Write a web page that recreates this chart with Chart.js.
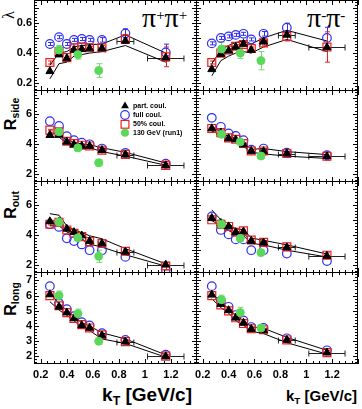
<!DOCTYPE html>
<html>
<head>
<meta charset="utf-8">
<script src="https://cdn.jsdelivr.net/npm/chart.js@4.4.0/dist/chart.umd.min.js"></script>
<style>
html, body { margin: 0; padding: 0; background: #fff; }
#wrap { position: relative; width: 362px; height: 409px; overflow: hidden; font-family: "Liberation Sans", Arial, sans-serif; }
canvas { position: absolute; }
.lbl { position: absolute; font-weight: bold; color: #000; white-space: nowrap; line-height: 1; }
.rot { transform: translate(-50%, -50%) rotate(-90deg); }
.lbl sub { font-size: 0.65em; vertical-align: -0.3em; line-height: 0; }
.pi { position: absolute; font-family: "Liberation Serif", "DejaVu Serif", serif; font-size: 28px; line-height: 1; white-space: nowrap; }
.pi sup { font-size: 15px; vertical-align: 0.5em; line-height: 0; }
</style>
</head>
<body>
<div id="wrap">
  <div class="pi" style="left:142px;top:4px">π<sup>+</sup>π<sup>+</sup></div>
  <div class="pi" style="left:307px;top:4px">π<sup>-</sup>π<sup>-</sup></div>
  <div class="lbl rot" style="left:9px;top:15px;font-family:'Liberation Serif',serif;font-weight:normal;font-size:16px">λ</div>
  <div class="lbl rot" style="left:11px;top:114px;font-size:16px">R<sub>side</sub></div>
  <div class="lbl rot" style="left:11px;top:205px;font-size:16px">R<sub>out</sub></div>
  <div class="lbl rot" style="left:11px;top:299px;font-size:16px">R<sub>long</sub></div>
  <div class="lbl" style="right:170px;top:385px;font-size:19px">k<sub>T</sub> [GeV/c]</div>
  <div class="lbl" style="right:5px;top:388px;font-size:15px">k<sub>T</sub> [GeV/c]</div>
</div>
<script>
// kT bins of the 200 GeV points and of the 130 GeV (run1) points
const kT = [0.27, 0.34, 0.40, 0.455, 0.515, 0.575, 0.67, 0.85, 1.16];
const kTerr = [0, 0, 0, 0, 0, 0, 0.025, 0.065, 0.14];
const kTrun1PP = [0.34, 0.485, 0.645];
const kTrun1MM = [0.345, 0.49, 0.65];

const xTicks = [0.2, 0.4, 0.6, 0.8, 1.0, 1.2];
const lamTicks = [0.2, 0.3, 0.4, 0.5, 0.6, 0.7];
const rTicks = [2, 3, 4, 5, 6, 7];
const legendLabels = ["part. coul.", "full coul.", "50% coul.", "130 GeV (run1)"];

// lambda, pi+pi+
const lamPP_part = [0.28, 0.39, 0.365, 0.42, 0.425, 0.43, 0.43, 0.48, 0.37];
const lamPP_full = [0.46, 0.505, 0.46, 0.487, 0.493, 0.487, 0.487, 0.53, 0.404];
const lamPP_half = [0.338, 0.41, 0.37, 0.435, 0.44, 0.435, 0.435, 0.493, 0.375];
const lamPP_fullErr = [0.01, 0.01, 0.01, 0.01, 0.01, 0.01, 0.015, 0.03, 0.055];
const lamPP_halfErr = [0.01, 0.01, 0.01, 0.01, 0.01, 0.01, 0.015, 0.03, 0.065];
const lamPP_run1 = [0.42, 0.39, 0.285];
const lamPP_run1Err = [0.03, 0.03, 0.045];
const lamPP_hi = [0.32, 0.40, 0.41, 0.44, 0.45, 0.455, 0.46, 0.52, 0.40];
const lamPP_lo = [0.23, 0.33, 0.34, 0.38, 0.39, 0.40, 0.41, 0.45, 0.34];

// lambda, pi-pi-
const lamMM_part = [0.293, 0.393, 0.415, 0.44, 0.46, 0.42, 0.475, 0.52, 0.437];
const lamMM_full = [0.464, 0.50, 0.51, 0.52, 0.527, 0.49, 0.527, 0.567, 0.50];
const lamMM_half = [0.338, 0.40, 0.42, 0.445, 0.457, 0.43, 0.467, 0.51, 0.44];
const lamMM_fullErr = [0.01, 0.01, 0.01, 0.01, 0.01, 0.01, 0.015, 0.03, 0.07];
const lamMM_halfErr = [0.01, 0.01, 0.01, 0.01, 0.01, 0.01, 0.015, 0.03, 0.1];
const lamMM_run1 = [0.427, 0.40, 0.35];
const lamMM_run1Err = [0.045, 0.035, 0.06];
const lamMM_hi = [0.33, 0.42, 0.45, 0.47, 0.48, 0.46, 0.50, 0.55, 0.48];
const lamMM_lo = [0.25, 0.35, 0.38, 0.40, 0.41, 0.40, 0.44, 0.49, 0.41];

// R_side
const sidePP_part = [4.58, 4.6, 4.14, 3.96, 3.87, 3.87, 3.59, 3.30, 2.59];
const sidePP_full = [5.50, 5.19, 4.51, 4.25, 4.09, 3.98, 3.70, 3.41, 2.70];
const sidePP_half = [4.91, 4.80, 4.18, 4.03, 3.92, 3.87, 3.59, 3.32, 2.59];
const sidePP_halfErr = [0.05, 0.05, 0.05, 0.05, 0.05, 0.05, 0.05, 0.08, 0.15];
const sidePP_run1 = [4.80, 3.74, 2.77];
const sidePP_run1Err = [0.15, 0.15, 0.2];
const sidePP_hi = [4.75, 4.65, 4.25, 4.1, 4.0, 3.95, 3.75, 3.45, 2.75];
const sidePP_lo = [4.45, 4.45, 4.05, 3.85, 3.8, 3.75, 3.5, 3.2, 2.6];

const sideMM_part = [5.02, 4.75, 4.36, 4.29, 3.96, 3.54, 3.52, 3.37, 3.19];
const sideMM_full = [5.72, 5.13, 4.69, 4.53, 4.25, 3.63, 3.70, 3.43, 3.26];
const sideMM_half = [5.02, 4.75, 4.40, 4.31, 4.03, 3.54, 3.54, 3.37, 3.19];
const sideMM_halfErr = [0.05, 0.05, 0.05, 0.05, 0.05, 0.05, 0.05, 0.08, 0.25];
const sideMM_run1 = [4.64, 4.14, 3.21];
const sideMM_run1Err = [0.15, 0.15, 0.15];
const sideMM_hi = [5.1, 4.85, 4.45, 4.4, 4.1, 3.65, 3.7, 3.5, 3.3];
const sideMM_lo = [4.85, 4.6, 4.25, 4.15, 3.85, 3.45, 3.35, 3.2, 3.05];

// R_out
const outPP_part = [4.89, 4.85, 4.40, 4.18, 3.96, 3.60, 3.44, 2.89, 2.04];
const outPP_full = [4.71, 4.53, 3.78, 3.60, 3.38, 3.0, 3.0, 2.56, 1.73];
const outPP_half = [4.71, 4.84, 4.33, 4.11, 3.89, 3.56, 3.44, 2.93, 1.96];
const outPP_halfErr = [0.05, 0.05, 0.05, 0.05, 0.05, 0.05, 0.05, 0.1, 0.25];
const outPP_run1 = [4.84, 3.82, 2.60];
const outPP_run1Err = [0.15, 0.15, 0.4];
const outPP_hi = [5.4, 5.3, 4.6, 4.35, 4.15, 3.95, 3.75, 3.1, 2.1];
const outPP_lo = [4.6, 4.6, 4.2, 4.0, 3.75, 3.4, 3.2, 2.7, 1.95];

const outMM_part = [5.11, 4.78, 4.56, 4.18, 4.22, 3.60, 3.49, 3.18, 2.62];
const outMM_full = [5.22, 4.33, 4.04, 3.71, 3.71, 3.0, 3.0, 2.78, 2.29];
const outMM_half = [5.0, 4.71, 4.56, 4.18, 4.27, 3.67, 3.51, 3.22, 2.67];
const outMM_halfErr = [0.05, 0.05, 0.05, 0.05, 0.05, 0.05, 0.05, 0.1, 0.2];
const outMM_run1 = [4.71, 3.78, 2.84];
const outMM_run1Err = [0.3, 0.15, 0.15];
const outMM_hi = [5.65, 5.0, 4.75, 4.4, 4.35, 3.8, 3.65, 3.35, 2.75];
const outMM_lo = [4.95, 4.6, 4.3, 4.0, 3.95, 3.45, 3.35, 3.0, 2.55];

// R_long
const longPP_part = [6.07, 5.26, 4.88, 4.49, 4.04, 3.87, 3.37, 2.97, 2.0];
const longPP_full = [6.62, 5.5, 5.1, 4.65, 4.25, 4.04, 3.53, 3.08, 2.11];
const longPP_half = [6.0, 5.33, 4.88, 4.49, 4.09, 3.87, 3.42, 2.97, 2.02];
const longPP_halfErr = [0.05, 0.05, 0.05, 0.05, 0.05, 0.05, 0.05, 0.08, 0.12];
const longPP_run1 = [6.0, 4.81, 3.0];
const longPP_run1Err = [0.3, 0.3, 0.2];
const longPP_hi = [6.2, 5.45, 5.05, 4.65, 4.2, 4.0, 3.55, 3.15, 2.1];
const longPP_lo = [5.6, 5.05, 4.7, 4.35, 3.9, 3.7, 3.15, 2.85, 1.95];

const longMM_part = [6.05, 5.44, 5.03, 4.54, 4.2, 3.8, 3.71, 3.08, 2.25];
const longMM_full = [6.62, 5.66, 5.26, 4.72, 4.36, 3.93, 3.87, 3.19, 2.40];
const longMM_half = [6.0, 5.39, 4.99, 4.54, 4.16, 3.82, 3.75, 3.08, 2.25];
const longMM_halfErr = [0.05, 0.05, 0.05, 0.05, 0.05, 0.05, 0.05, 0.08, 0.15];
const longMM_run1 = [5.73, 4.88, 3.87];
const longMM_run1Err = [0.3, 0.35, 0.15];
const longMM_hi = [6.2, 5.55, 5.15, 4.7, 4.35, 3.95, 3.85, 3.25, 2.4];
const longMM_lo = [5.8, 5.2, 4.85, 4.35, 4.05, 3.65, 3.5, 2.9, 2.15];

const BLUE = "#2f2ff0";
const RED = "#e52222";
const GREEN = "#5ad85a";
const GREEN_BAR = "#7ed67e";

Chart.defaults.font.family = "'Liberation Sans', Arial, sans-serif";
Chart.defaults.font.weight = "bold";
Chart.defaults.font.size = 11;
Chart.defaults.color = "#000";

const wrap = document.getElementById("wrap");
const ROW_TOP = [0, 90, 181, 272];
const ROW_H = [91, 92, 92, 92];

function pts(xs, ys) {
    return xs.map((x, i) => ({ x: x, y: ys[i] }));
}

function panel(c) {
    const isLeft = c.col === 0;
    const isBottom = c.row === 3;
    const cv = document.createElement("canvas");
    cv.width = isLeft ? 197 : 186;
    cv.height = ROW_H[c.row] + (isBottom ? 45 : 0);
    cv.style.left = (isLeft ? 0 : 176) + "px";
    cv.style.top = ROW_TOP[c.row] + "px";
    wrap.appendChild(cv);

    const isLam = c.yMax < 1;
    const minorY = isLam ? 0.02 : 0.2;
    const majorY = isLam ? 0.1 : 1;

    // frame, inward ticks on all four sides, error bars and legend
    const rootStyle = {
        id: "rootStyle",
        beforeDatasetsDraw(chart) {
            const ctx = chart.ctx;
            const xs = chart.scales.x, ys = chart.scales.y;
            ctx.save();
            ctx.lineWidth = 1;
            const vbar = (x, y, e, color, cap) => {
                if (!e) return;
                const px = Math.round(xs.getPixelForValue(x)) + 0.5;
                const y1 = ys.getPixelForValue(y - e), y2 = ys.getPixelForValue(y + e);
                ctx.strokeStyle = color;
                ctx.beginPath();
                ctx.moveTo(px, y1); ctx.lineTo(px, y2);
                ctx.moveTo(px - cap, y1); ctx.lineTo(px + cap, y1);
                ctx.moveTo(px - cap, y2); ctx.lineTo(px + cap, y2);
                ctx.stroke();
            };
            kT.forEach((x, i) => {
                vbar(x, c.full[i], c.fullErr ? c.fullErr[i] : 0, BLUE, 2.5);
                vbar(x, c.half[i], c.halfErr ? c.halfErr[i] : 0, RED, 2.5);
                if (kTerr[i]) {
                    const py = Math.round(ys.getPixelForValue(c.part[i])) + 0.5;
                    const x1 = xs.getPixelForValue(x - kTerr[i]), x2 = xs.getPixelForValue(x + kTerr[i]);
                    ctx.strokeStyle = "#222";
                    ctx.beginPath();
                    ctx.moveTo(x1, py); ctx.lineTo(x2, py);
                    ctx.moveTo(x1, py - 3); ctx.lineTo(x1, py + 3);
                    ctx.moveTo(x2, py - 3); ctx.lineTo(x2, py + 3);
                    ctx.stroke();
                }
            });
            c.run1x.forEach((x, i) => vbar(x, c.run1[i], c.run1Err[i], GREEN_BAR, 3));
            ctx.restore();
        },
        afterDraw(chart) {
            const ctx = chart.ctx;
            const a = chart.chartArea;
            const xs = chart.scales.x, ys = chart.scales.y;
            ctx.save();
            ctx.strokeStyle = "#000";
            ctx.lineWidth = 1;
            ctx.strokeRect(a.left + 0.5, a.top + 0.5, a.right - a.left - 1, a.bottom - a.top - 1);
            ctx.beginPath();
            for (let k = 0; k <= 25; k++) {
                const v = 0.15 + k * 0.05;
                const px = Math.round(xs.getPixelForValue(v)) + 0.5;
                const major = Math.abs(v / 0.2 - Math.round(v / 0.2)) < 1e-6;
                const len = major ? 5 : 3;
                ctx.moveTo(px, a.bottom); ctx.lineTo(px, a.bottom - len);
                ctx.moveTo(px, a.top); ctx.lineTo(px, a.top + len);
            }
            const n = Math.round((c.yMax - c.yMin) / minorY);
            const start = Math.ceil(c.yMin / minorY - 1e-6) * minorY;
            for (let k = 0; k <= n; k++) {
                const v = start + k * minorY;
                if (v > c.yMax) break;
                const py = Math.round(ys.getPixelForValue(v)) + 0.5;
                const major = Math.abs(v / majorY - Math.round(v / majorY)) < 1e-6;
                const len = major ? 5 : 3;
                ctx.moveTo(a.left, py); ctx.lineTo(a.left + len, py);
                ctx.moveTo(a.right, py); ctx.lineTo(a.right - len, py);
            }
            ctx.stroke();

            if (c.legend) {
                const lx = 125, ly = [16, 25, 34.3, 42.7];
                ctx.fillStyle = "#000";
                ctx.beginPath();
                ctx.moveTo(lx, ly[0] - 4.5); ctx.lineTo(lx + 3.9, ly[0] + 2.3); ctx.lineTo(lx - 3.9, ly[0] + 2.3);
                ctx.closePath(); ctx.fill();
                ctx.strokeStyle = BLUE; ctx.lineWidth = 1.2;
                ctx.beginPath(); ctx.arc(lx, ly[1], 4.3, 0, Math.PI * 2); ctx.stroke();
                ctx.strokeStyle = RED;
                ctx.strokeRect(lx - 3.9, ly[2] - 3.9, 7.8, 7.8);
                ctx.fillStyle = GREEN;
                ctx.beginPath(); ctx.arc(lx, ly[3], 4, 0, Math.PI * 2); ctx.fill();
                ctx.fillStyle = "#000";
                ctx.font = "bold 7px 'Liberation Sans', Arial, sans-serif";
                ctx.textBaseline = "middle";
                legendLabels.forEach((t, i) => ctx.fillText(t, 133, ly[i]));
            }
            ctx.restore();
        }
    };

    new Chart(cv.getContext("2d"), {
        type: "scatter",
        data: {
            datasets: [
                { data: pts(c.run1x, c.run1), pointStyle: "circle", pointRadius: 4, pointBackgroundColor: GREEN, pointBorderColor: GREEN, pointBorderWidth: 1 },
                { data: pts(kT, c.part), pointStyle: "triangle", pointRadius: 4.6, pointBackgroundColor: "#000", pointBorderColor: "#000", pointBorderWidth: 1 },
                { data: pts(kT, c.half), pointStyle: "rect", pointRadius: 5.6, pointBackgroundColor: "rgba(0,0,0,0)", pointBorderColor: RED, pointBorderWidth: 1.2 },
                { data: pts(kT, c.full), pointStyle: "circle", pointRadius: 4.3, pointBackgroundColor: "rgba(0,0,0,0)", pointBorderColor: BLUE, pointBorderWidth: 1.2 },
                { data: pts(kT, c.hi), showLine: true, borderColor: "#000", borderWidth: 1, pointRadius: 0 },
                { data: pts(kT, c.lo), showLine: true, borderColor: "#000", borderWidth: 1, pointRadius: 0 }
            ]
        },
        options: {
            responsive: false,
            animation: false,
            events: [],
            clip: 0,
            layout: { autoPadding: false, padding: { left: isLeft ? 0 : 20, right: isLeft ? 0 : 4, top: 0, bottom: 0 } },
            plugins: { legend: { display: false }, tooltip: { enabled: false } },
            scales: {
                x: {
                    type: "linear",
                    min: 0.148, max: 1.40,
                    display: isBottom,
                    grid: { display: false, drawTicks: false },
                    border: { display: false },
                    ticks: { padding: 4, font: { size: 11, weight: "bold" }, callback: (v) => String(+(+v).toFixed(1)) },
                    afterBuildTicks: (s) => { s.ticks = xTicks.map((v) => ({ value: v })); },
                    afterFit: (s) => { s.height = isBottom ? 45 : 0; s.paddingLeft = 0; s.paddingRight = 0; }
                },
                y: {
                    type: "linear",
                    min: c.yMin, max: c.yMax,
                    display: isLeft,
                    grid: { display: false, drawTicks: false },
                    border: { display: false },
                    ticks: { padding: 2, font: { size: 11, weight: "bold" }, callback: (v) => isLam ? (+v).toFixed(1) : String(Math.round(v)) },
                    afterBuildTicks: (s) => { s.ticks = (isLam ? lamTicks : rTicks).map((v) => ({ value: v })); },
                    afterFit: (s) => { s.width = isLeft ? 34 : 0; s.paddingTop = 0; s.paddingBottom = 0; }
                }
            }
        },
        plugins: [rootStyle]
    });
}

panel({ col: 0, row: 0, yMin: 0.15, yMax: 0.75, part: lamPP_part, full: lamPP_full, half: lamPP_half, fullErr: lamPP_fullErr, halfErr: lamPP_halfErr, run1x: kTrun1PP, run1: lamPP_run1, run1Err: lamPP_run1Err, hi: lamPP_hi, lo: lamPP_lo });
panel({ col: 1, row: 0, yMin: 0.15, yMax: 0.75, part: lamMM_part, full: lamMM_full, half: lamMM_half, fullErr: lamMM_fullErr, halfErr: lamMM_halfErr, run1x: kTrun1MM, run1: lamMM_run1, run1Err: lamMM_run1Err, hi: lamMM_hi, lo: lamMM_lo });
panel({ col: 0, row: 1, yMin: 1.5, yMax: 7.55, legend: true, part: sidePP_part, full: sidePP_full, half: sidePP_half, halfErr: sidePP_halfErr, run1x: kTrun1PP, run1: sidePP_run1, run1Err: sidePP_run1Err, hi: sidePP_hi, lo: sidePP_lo });
panel({ col: 1, row: 1, yMin: 1.5, yMax: 7.55, part: sideMM_part, full: sideMM_full, half: sideMM_half, halfErr: sideMM_halfErr, run1x: kTrun1MM, run1: sideMM_run1, run1Err: sideMM_run1Err, hi: sideMM_hi, lo: sideMM_lo });
panel({ col: 0, row: 2, yMin: 1.5, yMax: 7.55, part: outPP_part, full: outPP_full, half: outPP_half, halfErr: outPP_halfErr, run1x: kTrun1PP, run1: outPP_run1, run1Err: outPP_run1Err, hi: outPP_hi, lo: outPP_lo });
panel({ col: 1, row: 2, yMin: 1.5, yMax: 7.55, part: outMM_part, full: outMM_full, half: outMM_half, halfErr: outMM_halfErr, run1x: kTrun1MM, run1: outMM_run1, run1Err: outMM_run1Err, hi: outMM_hi, lo: outMM_lo });
panel({ col: 0, row: 3, yMin: 1.5, yMax: 7.55, part: longPP_part, full: longPP_full, half: longPP_half, halfErr: longPP_halfErr, run1x: kTrun1PP, run1: longPP_run1, run1Err: longPP_run1Err, hi: longPP_hi, lo: longPP_lo });
panel({ col: 1, row: 3, yMin: 1.5, yMax: 7.55, part: longMM_part, full: longMM_full, half: longMM_half, halfErr: longMM_halfErr, run1x: kTrun1MM, run1: longMM_run1, run1Err: longMM_run1Err, hi: longMM_hi, lo: longMM_lo });
</script>
</body>
</html>
